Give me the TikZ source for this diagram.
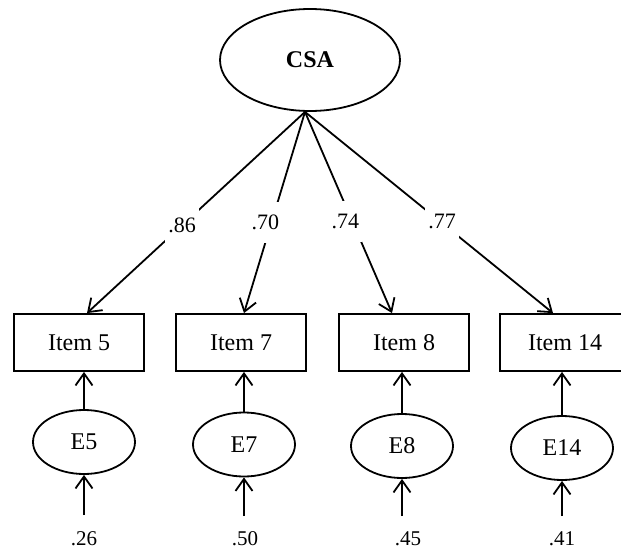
\documentclass[tikz,border=0pt]{standalone}
\usepackage{fontspec}
\setmainfont{Liberation Serif}
\usetikzlibrary{shapes.geometric,arrows.meta}
\begin{document}
\begin{tikzpicture}[x=1pt,y=-1pt,
  line width=1.8pt,
  latent/.style={ellipse,draw,inner sep=0pt,font=\fontsize{24}{28}\selectfont},
  factor/.style={latent,minimum width=180pt,minimum height=102pt,font=\fontsize{24}{28}\selectfont\bfseries},
  errnode/.style={latent,minimum width=102pt,minimum height=64pt},
  indicator/.style={rectangle,draw,inner sep=0pt,minimum width=130pt,minimum height=57pt,font=\fontsize{24}{28}\selectfont},
  coef/.style={fill=white,inner xsep=3pt,inner ysep=13pt,font=\fontsize{22}{26}\selectfont},
  resid/.style={inner sep=0pt,font=\fontsize{21}{24}\selectfont},
  path/.style={-{Straight Barb[length=12pt,width=17pt,line width=1.8pt]}}]
\useasboundingbox (0,0) rectangle (621,551);

% latent factor
\node[factor] (csa) at (310,60) {CSA};

% observed items
\node[indicator] (i5)  at (79,342.5)  {Item 5};
\node[indicator] (i7)  at (241,342.5) {Item 7};
\node[indicator] (i8)  at (404,342.5) {Item 8};
\node[indicator] (i14) at (565,342.5) {Item 14};

% error terms
\node[errnode] (e5)  at (84,442)  {E5};
\node[errnode] (e7)  at (244,444.5) {E7};
\node[errnode] (e8)  at (402,446) {E8};
\node[errnode] (e14) at (562,448) {E14};

% variance labels and the tails of their arrows
\node[resid] (v5)  at (84,539)  {.26};
\node[resid] (v7)  at (245,539) {.50};
\node[resid] (v8)  at (408,539) {.45};
\node[resid] (v14) at (562,539) {.41};
\coordinate (t5)  at (84,515);
\coordinate (t7)  at (244,516);
\coordinate (t8)  at (402,516);
\coordinate (t14) at (562,516);

% factor loadings
\coordinate (src) at ([xshift=-5pt]csa.south);
\draw[path] (src) -- node[coef,pos=0.564] {.86} ([xshift=8pt]i5.north);
\draw[path] (src) -- node[coef,pos=0.55,xshift=-6pt] {.70} ([xshift=3pt]i7.north);
\draw[path] (src) -- node[coef,pos=0.545,xshift=-7pt] {.74} ([xshift=-12pt]i8.north);
\draw[path] (src) -- node[coef,pos=0.545,xshift=2pt] {.77} ([xshift=-12pt]i14.north);

% error paths
\draw[path] (e5.north)  -- (e5.north |- i5.south);
\draw[path] (e7.north)  -- (e7.north |- i7.south);
\draw[path] (e8.north)  -- (e8.north |- i8.south);
\draw[path] (e14.north) -- (e14.north |- i14.south);

\draw[path] (t5)  -- (e5.south);
\draw[path] (t7)  -- (e7.south);
\draw[path] (t8)  -- (e8.south);
\draw[path] (t14) -- (e14.south);
\end{tikzpicture}
\end{document}
